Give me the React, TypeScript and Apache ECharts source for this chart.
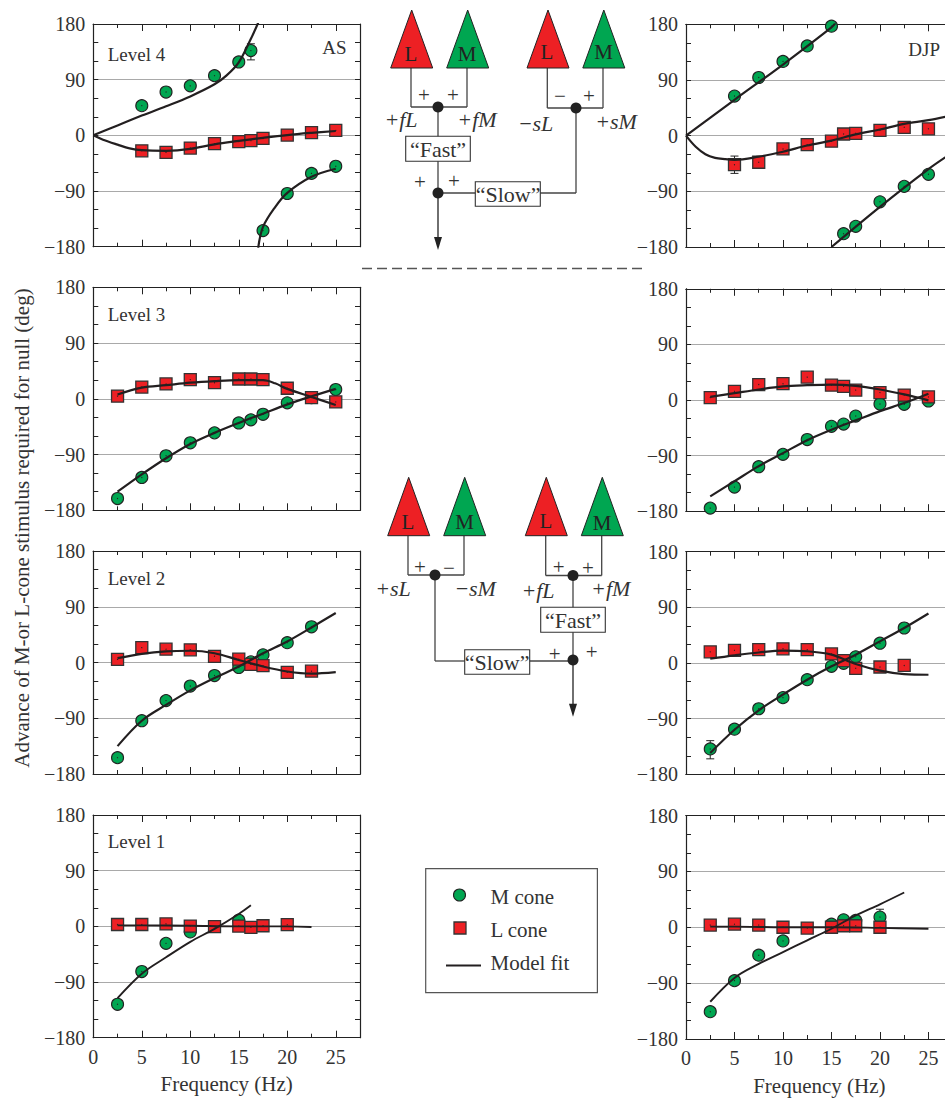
import React, { useEffect, useRef } from "react";
import * as echarts from "echarts";

type P = [number, number];
const FONT = "Liberation Serif";
const INK = "#333333";
const LINE = "#231f20";
const GREEN = "#00a651";
const RED = "#ed2024";

const yTicks = [-180, -90, 0, 90, 180];
const xLabel = "Frequency (Hz)";
const yLabel = "Advance of M-or L-cone stimulus required for null (deg)";

// ---- AS ----
const as4M: P[] = [[5,48],[7.5,70],[10,80],[12.5,96.5],[15,118.6],[16.25,137],[17.5,-154],[20,-94],[22.5,-61.5],[25,-50]];
const as4L: P[] = [[5,-25],[7.5,-27.5],[10,-20.5],[12.5,-13.5],[15,-10],[16.25,-8.6],[17.5,-5],[20,0.5],[22.5,4.3],[25,8]];
const as4FitM1: P[] = [[0,0],[2.5,16],[5,32],[7.5,47],[10,63],[12.5,82.5],[13.75,97],[15,118],[16.25,156],[17,182]];
const as4FitM2: P[] = [[17,-182],[17.5,-148],[18.75,-116],[20,-93],[22.5,-67],[25,-54]];
const as4FitL: P[] = [[0,0],[1,-7],[2.5,-15],[3.75,-21],[5,-24],[7.5,-25],[10,-22],[12.5,-14.5],[15,-9],[17.5,-4],[20,0.5],[22.5,4],[25,7]];
const as4Err: [number, number, number][] = [[16.25,122,148]];

const as3M: P[] = [[2.5,-161],[5,-127],[7.5,-92],[10,-71],[12.5,-55],[15,-39],[16.25,-34],[17.5,-25],[20,-6.5],[22.5,2],[25,15]];
const as3L: P[] = [[2.5,4.3],[5,19],[7.5,24],[10,31],[12.5,26],[15,32],[16.25,32],[17.5,31],[20,17],[22.5,2],[25,-5]];
const as3FitM: P[] = [[2.5,-150],[5,-122],[7.5,-96],[10,-73],[12.5,-55],[15,-39],[17.5,-24],[20,-9],[22.5,4],[25,16]];
const as3FitL: P[] = [[2.5,7],[5,18],[7.5,22],[10,26],[12.5,28.5],[15,30],[17.5,30],[18.75,25],[20,16],[22.5,3],[25,-10]];

const as2M: P[] = [[2.5,-153.6],[5,-94],[7.5,-61.5],[10,-38],[12.5,-21],[15,-8],[16.25,1],[17.5,12.4],[20,32],[22.5,57.7]];
const as2L: P[] = [[2.5,5],[5,24],[7.5,21.5],[10,20.5],[12.5,10],[15,5.4],[16.25,-3],[17.5,-5],[20,-16],[22.5,-14]];
const as2FitM: P[] = [[2.5,-135],[5,-94],[7.5,-68.5],[10,-45],[12.5,-25],[15,-6.5],[17.5,15],[20,34],[22.5,56.6],[25,80]];
const as2FitL: P[] = [[2.5,7],[5,14],[7.5,18],[10,19],[12.5,15],[15,4],[17.5,-6.5],[20,-14.5],[22.5,-18],[25,-15.6]];

const as1M: P[] = [[2.5,-126],[5,-73],[7.5,-27.5],[10,-9],[15,10]];
const as1L: P[] = [[2.5,3],[5,3],[7.5,4],[10,0.5],[12.5,-0.5],[15,0.5],[16.25,-1.6],[17.5,1],[20,2.7]];
const as1FitM: P[] = [[2.5,-116],[5,-76.5],[7.5,-50],[10,-25],[12.5,-4],[15,20],[16.25,34]];
const as1FitL: P[] = [[2.5,1.6],[5,1.6],[10,1],[15,0],[20,0],[22.5,-1]];

// ---- DJP ----
const dj4M: P[] = [[5,64],[7.5,94],[10,120],[12.5,145],[15,177],[16.25,-158.5],[17.5,-146.6],[20,-107],[22.5,-82],[25,-62.5]];
const dj4L: P[] = [[5,-47],[7.5,-43],[10,-21.5],[12.5,-14.5],[15,-9],[16.25,2.7],[17.5,3.8],[20,8.6],[22.5,13.5],[25,11]];
const dj4FitM1: P[] = [[0,0],[5,58],[10,115],[15,175],[15.4,182]];
const dj4FitM2: P[] = [[15,-180],[20,-115],[25,-54],[27.5,-27]];
const dj4FitL: P[] = [[0,0],[1,-18],[2,-30],[3,-36],[4,-38],[5,-39],[7.5,-34],[10,-26],[12.5,-16],[15,-8],[17.5,2],[20,10],[22.5,19],[25,25],[27.5,33]];
const dj4Err: [number, number, number][] = [[5,-61,-33]];

const dj3M: P[] = [[2.5,-175],[5,-141],[7.5,-108],[10,-88],[12.5,-64],[15,-42.6],[16.25,-39],[17.5,-26],[20,-6.5],[22.5,-7],[25,-1.6]];
const dj3L: P[] = [[2.5,4],[5,14],[7.5,25],[10,26.4],[12.5,37],[15,24],[16.25,22],[17.5,16],[20,12],[22.5,8],[25,5]];
const dj3FitM: P[] = [[2.5,-156],[5,-131.5],[7.5,-107],[10,-86],[12.5,-65],[15,-48],[17.5,-33],[20,-18],[22.5,-5],[25,10]];
const dj3FitL: P[] = [[2.5,5],[5,11],[7.5,17],[10,22],[12.5,24],[15,25],[17.5,23],[20,17],[22.5,9],[25,-0.5]];

const dj2M: P[] = [[2.5,-139],[5,-107],[7.5,-74],[10,-56],[12.5,-27],[15,-5.4],[16.25,-0.5],[17.5,10],[20,32],[22.5,56.6]];
const dj2L: P[] = [[2.5,18],[5,20.5],[7.5,21.5],[10,23],[12.5,21.5],[15,14.6],[16.25,4],[17.5,-8.6],[20,-6.5],[22.5,-4]];
const dj2FitM: P[] = [[2.5,-145.5],[5,-108],[7.5,-76.5],[10,-51],[12.5,-27],[15,-5.4],[17.5,13.5],[20,35],[22.5,56.6],[25,80]];
const dj2FitL: P[] = [[2.5,7],[5,12.4],[7.5,17],[10,20],[12.5,19],[15,13.5],[17.5,-1.6],[20,-12.4],[22.5,-18],[25,-19]];
const dj2Err: [number, number, number][] = [[2.5,-155,-125.6],[2.5,13,23]];

const dj1M: P[] = [[2.5,-136],[5,-86],[7.5,-45],[10,-22],[15,5],[16.25,12],[17.5,11],[20,16.4]];
const dj1L: P[] = [[2.5,3.5],[5,5],[7.5,3.5],[10,0],[12.5,-1.3],[15,0],[16.25,2.4],[17.5,2.4],[20,0]];
const dj1FitM: P[] = [[2.5,-120],[5,-81.6],[7.5,-59],[10,-40],[12.5,-21],[15,-2.4],[17.5,19],[20,37],[22.5,56]];
const dj1FitL: P[] = [[2.5,1],[5,1],[10,0],[15,0],[20,-1],[25,-2.4]];
const dj1Err: [number, number, number][] = [[20,7,29]];

const panels = [
  { left: 93.3, top: 24, h: 222.7, m: as4M, l: as4L, fits: [as4FitM1, as4FitM2, as4FitL], err: as4Err, bottom: false },
  { left: 93.3, top: 287.3, h: 223, m: as3M, l: as3L, fits: [as3FitM, as3FitL], err: [], bottom: false },
  { left: 93.3, top: 551, h: 223, m: as2M, l: as2L, fits: [as2FitM, as2FitL], err: [], bottom: false },
  { left: 93.3, top: 815, h: 222.7, m: as1M, l: as1L, fits: [as1FitM, as1FitL], err: [], bottom: true },
  { left: 686, top: 24.3, h: 222.7, m: dj4M, l: dj4L, fits: [dj4FitM1, dj4FitM2, dj4FitL], err: dj4Err, bottom: false },
  { left: 686, top: 288.8, h: 222.4, m: dj3M, l: dj3L, fits: [dj3FitM, dj3FitL], err: [], bottom: false },
  { left: 686, top: 551.7, h: 222.6, m: dj2M, l: dj2L, fits: [dj2FitM, dj2FitL], err: dj2Err, bottom: false },
  { left: 686, top: 815.5, h: 223.5, m: dj1M, l: dj1L, fits: [dj1FitM, dj1FitL], err: dj1Err, bottom: true },
];

function buildOption() {
  const grid: any[] = [];
  const xAxis: any[] = [];
  const yAxis: any[] = [];
  const series: any[] = [];
  const axisLine = { onZero: false, lineStyle: { color: "#222", width: 1.2 } };

  panels.forEach((p, i) => {
    grid.push({ left: p.left, top: p.top, width: 266.7, height: p.h });
    const base = { type: "value", gridIndex: i, min: 0, max: 27.5, axisLine, splitLine: { show: false } };
    const tick = (len: number) => ({ show: true, inside: true, length: len, lineStyle: { color: "#222", width: 1 } });
    xAxis.push({
      ...base,
      position: "bottom",
      interval: 5,
      axisTick: tick(7),
      axisLabel: {
        show: p.bottom,
        margin: 9,
        showMaxLabel: false,
        color: INK,
        fontFamily: FONT,
        fontSize: 20,
      },
      name: p.bottom ? xLabel : "",
      nameLocation: "middle",
      nameGap: 36,
      nameTextStyle: { color: INK, fontFamily: FONT, fontSize: 21 },
    });
    xAxis.push({ ...base, position: "bottom", interval: 2.5, axisTick: tick(4), axisLabel: { show: false } });
    xAxis.push({ ...base, position: "top", interval: 5, axisTick: tick(7), axisLabel: { show: false } });
    xAxis.push({ ...base, position: "top", interval: 2.5, axisTick: tick(4), axisLabel: { show: false } });

    const yBase = {
      type: "value",
      gridIndex: i,
      min: yTicks[0],
      max: yTicks[4],
      interval: 90,
      axisLine,
      axisTick: tick(5),
      minorTick: { show: true, splitNumber: 3, length: 5, lineStyle: { color: "#222", width: 1 } },
    };
    yAxis.push({
      ...yBase,
      position: "left",
      axisLabel: {
        margin: 8,
        color: INK,
        fontFamily: FONT,
        fontSize: 20,
        formatter: (v: number) => String(v).replace("-", "\u2212"),
      },
      splitLine: { show: true, showMinLine: false, showMaxLine: false, lineStyle: { color: "#a9a9a9", width: 1.2 } },
    });
    yAxis.push({ ...yBase, position: "right", axisLabel: { show: false }, splitLine: { show: false } });

    const ax = { xAxisIndex: i * 4, yAxisIndex: i * 2 };
    p.fits.forEach((fit) => {
      series.push({
        ...ax,
        type: "line",
        data: fit,
        smooth: 0.35,
        symbol: "none",
        clip: true,
        lineStyle: { color: LINE, width: i === 3 || i === 7 ? 1.9 : 2.2 },
      });
    });
    if (p.err.length) {
      series.push({
        ...ax,
        type: "custom",
        data: p.err,
        encode: { x: 0, y: [1, 2] },
        clip: false,
        renderItem: (_: any, api: any) => {
          const lo = api.coord([api.value(0), api.value(1)]);
          const hi = api.coord([api.value(0), api.value(2)]);
          const style = { stroke: "#222", lineWidth: 1, fill: "none" };
          return {
            type: "group",
            children: [
              { type: "line", shape: { x1: lo[0], y1: lo[1], x2: hi[0], y2: hi[1] }, style },
              { type: "line", shape: { x1: lo[0] - 4, y1: lo[1], x2: lo[0] + 4, y2: lo[1] }, style },
              { type: "line", shape: { x1: hi[0] - 4, y1: hi[1], x2: hi[0] + 4, y2: hi[1] }, style },
            ],
          };
        },
      });
    }
    const centre = {
      ...ax,
      type: "scatter",
      symbol: "circle",
      symbolSize: 1.2,
      clip: false,
      silent: true,
      itemStyle: { color: "#222", opacity: 1 },
    };
    series.push({
      ...ax,
      type: "scatter",
      name: "M cone",
      data: p.m,
      symbol: "circle",
      symbolSize: 12,
      clip: false,
      itemStyle: { color: GREEN, borderColor: "#222", borderWidth: 1.1, opacity: 1 },
    });
    series.push({ ...centre, data: p.m });
    series.push({
      ...ax,
      type: "scatter",
      name: "L cone",
      data: p.l,
      symbol: "rect",
      symbolSize: 12,
      clip: false,
      itemStyle: { color: RED, borderColor: "#333", borderWidth: 1.3, opacity: 1 },
    });
    series.push({ ...centre, data: p.l });
  });
  return { grid, xAxis, yAxis, series };
}

function txt(text: string, x: number, y: number, opts: any = {}) {
  return {
    type: "text",
    x,
    y,
    z: 20,
    rotation: opts.rotation || 0,
    style: {
      text,
      fill: opts.fill || INK,
      fontFamily: FONT,
      fontSize: opts.size || 19,
      fontStyle: opts.italic ? "italic" : "normal",
      textAlign: opts.align || "center",
      textVerticalAlign: "middle",
    },
  };
}
const seg = (x1: number, y1: number, x2: number, y2: number, stroke = "#444", lineWidth = 1.3, lineDash?: number[]) => ({
  type: "line",
  z: 10,
  shape: { x1, y1, x2, y2 },
  style: { stroke, lineWidth, lineDash },
});
const tri = (cx: number, top: number, base: number, fill: string) => ({
  type: "polygon",
  z: 12,
  shape: { points: [[cx, top], [cx + 21, base], [cx - 21, base]] },
  style: { fill, stroke: "#222", lineWidth: 1 },
});
const dot = (cx: number, cy: number) => ({
  type: "circle",
  z: 14,
  shape: { cx, cy, r: 5.5 },
  style: { fill: "#222" },
});
const box = (x: number, y: number, w: number, h: number) => ({
  type: "rect",
  z: 13,
  shape: { x, y, width: w, height: h },
  style: { fill: "#fff", stroke: "#333", lineWidth: 1.1 },
});
const arrow = (x: number, y0: number, y1: number) => [
  seg(x, y0, x, y1 - 8, "#222", 1.3),
  { type: "polygon", z: 14, shape: { points: [[x - 4, y1 - 13], [x + 4, y1 - 13], [x, y1]] }, style: { fill: "#222" } },
];
const SIGN = { size: 21 };
const CONE = { size: 21, fill: "#222" };
const BOX = { size: 22 };
const ITAL = { italic: true, size: 22 };

function buildGraphic() {
  const e: any[] = [];
  // Labels inside the panels
  e.push(txt("Level 4", 107.7, 54, { align: "left" }));
  e.push(txt("Level 3", 107.7, 314, { align: "left" }));
  e.push(txt("Level 2", 107.7, 578, { align: "left" }));
  e.push(txt("Level 1", 107.7, 841, { align: "left" }));
  e.push(txt("AS", 346.5, 47, { align: "right" }));
  e.push(txt("DJP", 940, 49, { align: "right" }));
  e.push(txt(yLabel, 22, 528, { rotation: Math.PI / 2, size: 21 }));
  // Dashed separator
  e.push(seg(362, 268.5, 642, 268.5, "#555", 1.3, [10, 5]));

  // Top diagram
  e.push(seg(411, 68, 411, 107), seg(467, 68, 467, 107), seg(411, 107, 467, 107));
  e.push(seg(438, 107, 438, 193));
  e.push(seg(438, 193, 476, 193), seg(540, 193, 576, 193), seg(576, 193, 576, 108));
  e.push(seg(547.3, 68, 547.3, 108), seg(603, 68, 603, 108), seg(547.3, 108, 603, 108));
  e.push(...arrow(438, 193, 250));
  e.push(tri(411.7, 10, 68, RED), tri(467.7, 10, 68, GREEN), tri(548, 10, 68, RED), tri(603.8, 10, 68, GREEN));
  e.push(dot(438, 107), dot(438, 193), dot(576, 108));
  e.push(box(405.7, 136.3, 64.6, 25), box(475.3, 181.7, 65, 24.6));
  e.push(txt("L", 411, 54, CONE), txt("M", 467, 54, CONE), txt("L", 547, 52, CONE), txt("M", 603.5, 52, CONE));
  e.push(txt("+", 424, 95, SIGN), txt("+", 453, 95, SIGN), txt("\u2212", 560, 96, SIGN), txt("+", 589, 96, SIGN));
  e.push(txt("+", 420, 182, SIGN), txt("+", 454, 181, SIGN));
  e.push(txt("+fL", 401, 119, ITAL), txt("+fM", 477, 119, ITAL));
  e.push(txt("\u2212sL", 535.5, 123, ITAL), txt("+sM", 616, 121, ITAL));
  e.push(txt("\u201cFast\u201d", 438, 149, BOX), txt("\u201cSlow\u201d", 508, 194, BOX));

  // Lower diagram
  e.push(seg(408, 535.7, 408, 575), seg(464, 535.7, 464, 575), seg(408, 575, 464, 575));
  e.push(seg(435, 575, 435, 661), seg(435, 661, 465, 661), seg(529, 661, 573, 661));
  e.push(seg(545.7, 535.7, 545.7, 575.5), seg(601.7, 535.7, 601.7, 575.5), seg(545.7, 575.5, 601.7, 575.5));
  e.push(seg(573, 575.5, 573, 660));
  e.push(...arrow(573, 660, 716.7));
  e.push(tri(408.7, 477.3, 535.7, RED), tri(464.7, 477.3, 535.7, GREEN), tri(546.3, 477.3, 535.7, RED), tri(602.3, 477.3, 535.7, GREEN));
  e.push(dot(435, 575), dot(573, 575.5), dot(573, 660));
  e.push(box(464.7, 649.7, 65, 24.6), box(540.7, 607.3, 64.6, 25));
  e.push(txt("L", 408, 522, CONE), txt("M", 464.5, 522, CONE), txt("L", 546, 521, CONE), txt("M", 602, 523, CONE));
  e.push(txt("+", 420, 566.7, SIGN), txt("\u2212", 449, 568, SIGN), txt("+", 558.7, 567, SIGN), txt("+", 588, 568, SIGN));
  e.push(txt("+sL", 393, 588, ITAL), txt("\u2212sM", 475, 588, ITAL));
  e.push(txt("+fL", 538, 590, ITAL), txt("+fM", 610.7, 588, ITAL));
  e.push(txt("+", 554.7, 654, SIGN), txt("+", 591.7, 652, SIGN));
  e.push(txt("\u201cFast\u201d", 573, 620, BOX), txt("\u201cSlow\u201d", 497, 662, BOX));

  // Legend
  e.push({ type: "rect", z: 9, shape: { x: 425.7, y: 868.7, width: 171.7, height: 124 }, style: { fill: "#fff", stroke: "#555", lineWidth: 1.2 } });
  e.push({ type: "circle", z: 14, shape: { cx: 459.5, cy: 895, r: 6 }, style: { fill: GREEN, stroke: "#222", lineWidth: 1.1 } });
  e.push({ type: "rect", z: 14, shape: { x: 454, y: 922, width: 12, height: 12 }, style: { fill: RED, stroke: "#333", lineWidth: 1.3 } });
  e.push(seg(446, 965.5, 481, 965.5, LINE, 2));
  const LEG = { align: "left", size: 21 };
  e.push(txt("M cone", 490.5, 897, LEG), txt("L cone", 490.5, 930, LEG), txt("Model fit", 490.5, 963, LEG));
  return e;
}

export default function App() {
  const ref = useRef<HTMLDivElement>(null);
  useEffect(() => {
    if (!ref.current) return;
    const chart = echarts.init(ref.current, undefined, { renderer: "svg" });
    chart.setOption({
      animation: false,
      backgroundColor: "#ffffff",
      textStyle: { fontFamily: FONT },
      ...buildOption(),
      graphic: { elements: buildGraphic() },
    });
    return () => chart.dispose();
  }, []);
  // The right-hand panels run past the page edge, as in the reference: the chart is wider than its clipping frame.
  return (
    <div style={{ position: "absolute", left: 0, top: 0, width: 945, height: 1098, overflow: "hidden" }}>
      <div ref={ref} style={{ width: 960, height: 1098 }} />
    </div>
  );
}
